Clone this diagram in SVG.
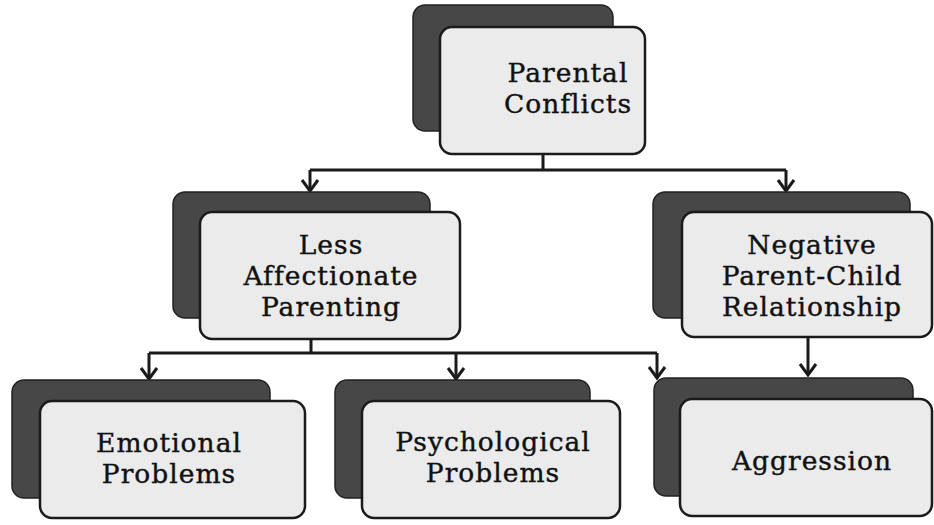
<svg xmlns="http://www.w3.org/2000/svg" width="934" height="525" viewBox="0 0 934 525">
<defs>
<marker id="arr" viewBox="0 0 16 20" refX="14" refY="10" markerWidth="16" markerHeight="20" markerUnits="userSpaceOnUse" orient="auto">
<path d="M3,2 L14,10 L3,18" fill="none" stroke="#1a1a1a" stroke-width="3"/>
</marker>
<style>
.sh{fill:#474747;stroke:#222;stroke-width:1.5}
.fr{fill:#ebebeb;stroke:#1a1a1a;stroke-width:2.5}
.t{font-family:"DejaVu Serif","Liberation Serif",serif;font-size:26.5px;letter-spacing:1px;fill:#111;stroke:#111;stroke-width:0.4;text-anchor:middle}
.c{fill:none;stroke:#1a1a1a;stroke-width:3}
</style>
</defs>
<rect width="934" height="525" fill="#fff"/>
<g id="connectors">
<path class="c" d="M543,154 V170 M310,170 H786"/>
<path class="c" d="M310,170 V191" marker-end="url(#arr)"/>
<path class="c" d="M786,170 V191" marker-end="url(#arr)"/>
<path class="c" d="M311,339 V353 M149,353 H657"/>
<path class="c" d="M149,353 V379" marker-end="url(#arr)"/>
<path class="c" d="M456,353 V379" marker-end="url(#arr)"/>
<path class="c" d="M657,353 V378" marker-end="url(#arr)"/>
<path class="c" d="M808,337 V375" marker-end="url(#arr)"/>
</g>
<g id="parental-conflicts">
<rect class="sh" x="413" y="5" width="200" height="126" rx="12"/>
<rect class="fr" x="440" y="27" width="205" height="127" rx="12"/>
<text class="t" x="568" y="82">Parental</text>
<text class="t" x="568" y="113">Conflicts</text>
</g>
<g id="less-affectionate">
<rect class="sh" x="173" y="192" width="257" height="126" rx="12"/>
<rect class="fr" x="200" y="212" width="260" height="127" rx="12"/>
<text class="t" x="331" y="254">Less</text>
<text class="t" x="331" y="285">Affectionate</text>
<text class="t" x="331" y="316">Parenting</text>
</g>
<g id="negative-relationship">
<rect class="sh" x="653" y="192" width="257" height="126" rx="12"/>
<rect class="fr" x="682" y="212" width="250" height="125" rx="12"/>
<text class="t" x="812" y="254">Negative</text>
<text class="t" x="812" y="285">Parent-Child</text>
<text class="t" x="812" y="316">Relationship</text>
</g>
<g id="emotional-problems">
<rect class="sh" x="12" y="380" width="258" height="118" rx="12"/>
<rect class="fr" x="40" y="401" width="265" height="117" rx="12"/>
<text class="t" x="169" y="452">Emotional</text>
<text class="t" x="169" y="483">Problems</text>
</g>
<g id="psychological-problems">
<rect class="sh" x="335" y="380" width="255" height="118" rx="12"/>
<rect class="fr" x="362" y="401" width="258" height="117" rx="12"/>
<text class="t" x="493" y="451">Psychological</text>
<text class="t" x="493" y="482">Problems</text>
</g>
<g id="aggression">
<rect class="sh" x="654" y="378" width="259" height="118" rx="12"/>
<rect class="fr" x="680" y="399" width="252" height="117" rx="12"/>
<text class="t" x="812" y="470">Aggression</text>
</g>
</svg>
